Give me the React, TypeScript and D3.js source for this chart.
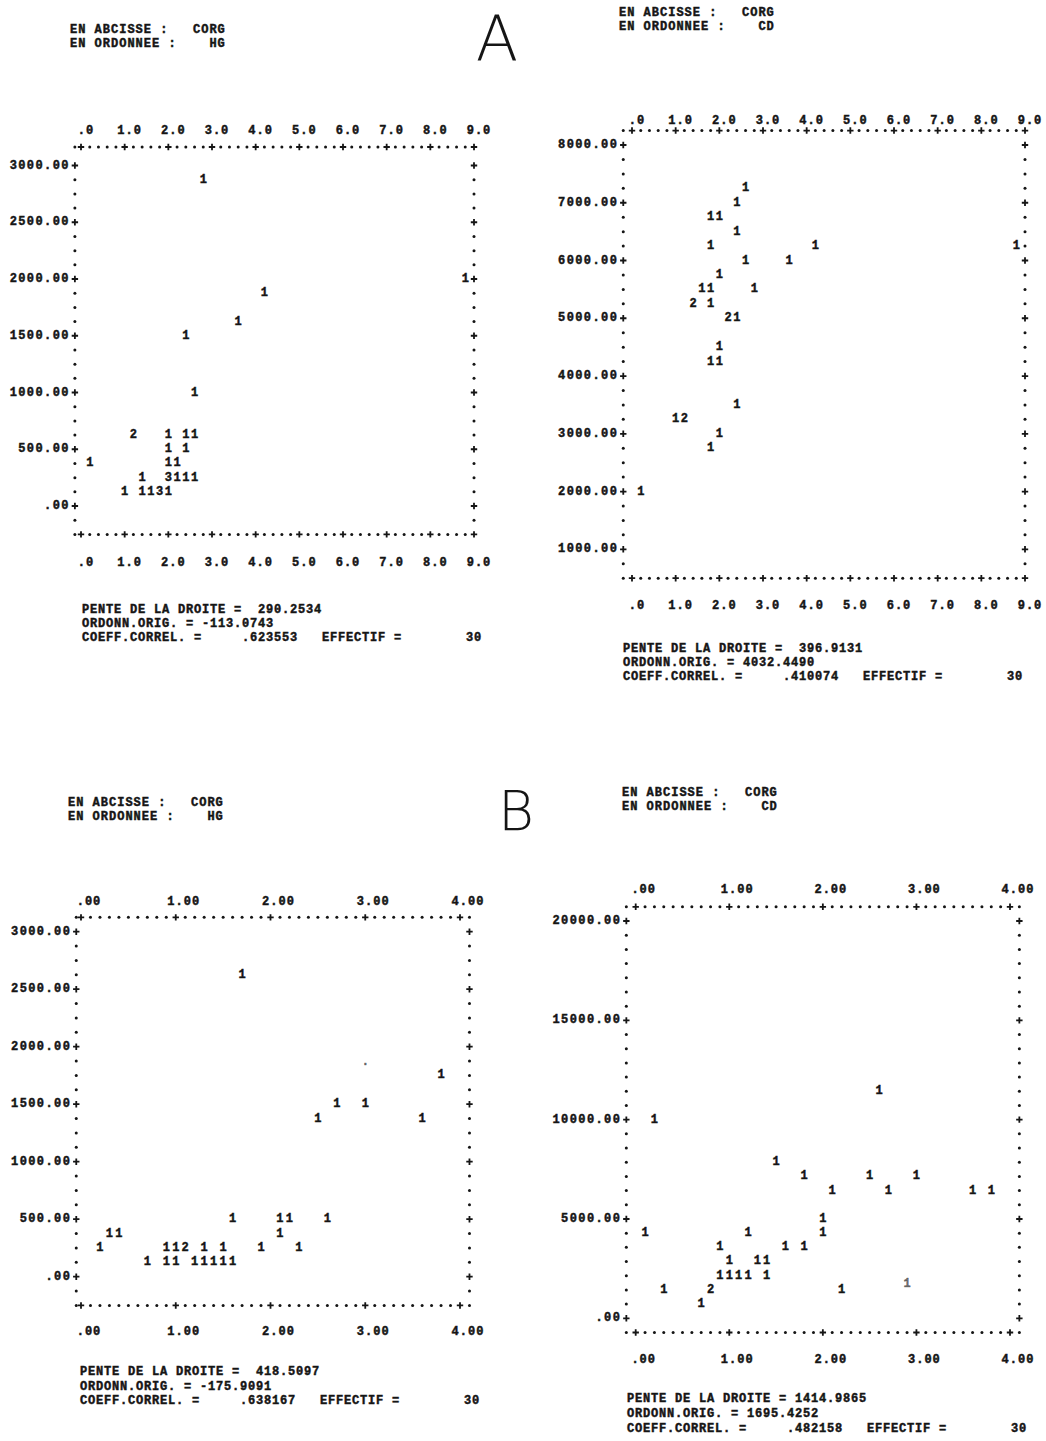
import React from 'react';
import * as d3 from 'd3';

// --- values (x = CORG, y = HG or CD, n = printed count) ---
const corgTicksA = [0, 1, 2, 3, 4, 5, 6, 7, 8, 9];
const corgLabelsA = ['.0', '1.0', '2.0', '3.0', '4.0', '5.0', '6.0', '7.0', '8.0', '9.0'];
const corgTicksB = [0, 1, 2, 3, 4];
const corgLabelsB = ['.00', '1.00', '2.00', '3.00', '4.00'];

const hgTicks = [0, 500, 1000, 1500, 2000, 2500, 3000];
const hgLabels = ['.00', '500.00', '1000.00', '1500.00', '2000.00', '2500.00', '3000.00'];
const cdTicksA = [1000, 2000, 3000, 4000, 5000, 6000, 7000, 8000];
const cdLabelsA = ['1000.00', '2000.00', '3000.00', '4000.00', '5000.00', '6000.00', '7000.00', '8000.00'];
const cdTicksB = [0, 5000, 10000, 15000, 20000];
const cdLabelsB = ['.00', '5000.00', '10000.00', '15000.00', '20000.00'];

// [corg, value, count]
const hgPointsA = [
  [2.8, 2875, 1], [8.8, 2000, 1], [4.2, 1875, 1], [3.6, 1625, 1], [2.4, 1500, 1], [2.6, 1000, 1],
  [1.2, 625, 2], [2.0, 625, 1], [2.4, 625, 1], [2.6, 625, 1],
  [2.0, 500, 1], [2.4, 500, 1],
  [0.2, 375, 1], [2.0, 375, 1], [2.2, 375, 1],
  [1.4, 250, 1], [2.0, 250, 3], [2.2, 250, 1], [2.4, 250, 1], [2.6, 250, 1],
  [1.0, 125, 1], [1.4, 125, 1], [1.6, 125, 1], [1.8, 125, 3], [2.0, 125, 1],
];
const cdPointsA = [
  [2.6, 7250, 1], [2.4, 7000, 1], [1.8, 6750, 1], [2.0, 6750, 1], [2.4, 6500, 1],
  [1.8, 6250, 1], [4.2, 6250, 1], [8.8, 6250, 1], [2.6, 6000, 1], [3.6, 6000, 1],
  [2.0, 5750, 1], [1.6, 5500, 1], [1.8, 5500, 1], [2.8, 5500, 1],
  [1.4, 5250, 2], [1.8, 5250, 1], [2.2, 5000, 2], [2.4, 5000, 1],
  [2.0, 4500, 1], [1.8, 4250, 1], [2.0, 4250, 1], [2.4, 3500, 1],
  [1.0, 3250, 1], [1.2, 3250, 2], [2.0, 3000, 1], [1.8, 2750, 1], [0.2, 2000, 1],
];
const hgPointsB = [
  [1.7, 2625, 1], [3.8, 1750, 1], [2.7, 1500, 1], [3.0, 1500, 1], [2.5, 1375, 1], [3.6, 1375, 1],
  [1.6, 500, 1], [2.1, 500, 1], [2.2, 500, 1], [2.6, 500, 1],
  [0.3, 375, 1], [0.4, 375, 1], [2.1, 375, 1],
  [0.2, 250, 1], [0.9, 250, 1], [1.0, 250, 1], [1.1, 250, 2], [1.3, 250, 1], [1.5, 250, 1],
  [1.9, 250, 1], [2.3, 250, 1],
  [0.7, 125, 1], [0.9, 125, 1], [1.0, 125, 1], [1.2, 125, 1], [1.3, 125, 1], [1.4, 125, 1],
  [1.5, 125, 1], [1.6, 125, 1],
];
const cdPointsB = [
  [2.6, 11430, 1], [0.2, 10000, 1], [1.5, 7860, 1],
  [1.8, 7140, 1], [2.5, 7140, 1], [3.0, 7140, 1],
  [2.1, 6430, 1], [2.7, 6430, 1], [3.6, 6430, 1], [3.8, 6430, 1],
  [2.0, 5000, 1], [0.1, 4290, 1], [1.2, 4290, 1], [2.0, 4290, 1],
  [0.9, 3570, 1], [1.6, 3570, 1], [1.8, 3570, 1],
  [1.0, 2860, 1], [1.3, 2860, 1], [1.4, 2860, 1],
  [0.9, 2140, 1], [1.0, 2140, 1], [1.1, 2140, 1], [1.2, 2140, 1], [1.4, 2140, 1],
  [0.3, 1430, 1], [0.8, 1430, 2], [2.2, 1430, 1], [0.7, 710, 1],
];
// smudges on the printout
const strayHgB = [[3.0, 1870, '.']];
const strayCdB = [[2.9, 1730, '1']];

const headerHgA = ['EN ABCISSE :   CORG', 'EN ORDONNEE :    HG'];
const headerCdA = ['EN ABCISSE :   CORG', 'EN ORDONNEE :    CD'];
const statsHgA = ['PENTE DE LA DROITE =  290.2534', 'ORDONN.ORIG. = -113.0743', 'COEFF.CORREL. =     .623553   EFFECTIF =        30'];
const statsCdA = ['PENTE DE LA DROITE =  396.9131', 'ORDONN.ORIG. = 4032.4490', 'COEFF.CORREL. =     .410074   EFFECTIF =        30'];
const statsHgB = ['PENTE DE LA DROITE =  418.5097', 'ORDONN.ORIG. = -175.9091', 'COEFF.CORREL. =     .638167   EFFECTIF =        30'];
const statsCdB = ['PENTE DE LA DROITE = 1414.9865', 'ORDONN.ORIG. = 1695.4252', 'COEFF.CORREL. =     .482158   EFFECTIF =        30'];

const FONT = "'Liberation Mono', 'DejaVu Sans Mono', monospace";
const INK = '#151515';

const Plus = ({ x, y }) => (
  <path d={`M${x - 3.2},${y}H${x + 3.2}M${x},${y - 3.2}V${y + 3.2}`} stroke={INK} strokeWidth={1.8} />
);
const Dot = ({ x, y }) => <circle cx={x} cy={y} r={1.5} fill={INK} />;

const PrinterPlot = ({ cfg, points, stray = [], xTicks, xLabels, yTicks, yLabels, header, stats }) => {
  const x = d3.scaleLinear().domain([0, cfg.xMax]).range(cfg.xRange);
  const y = d3.scaleLinear().domain(cfg.yDomain).range(cfg.yRange);
  const [yMin, yMax] = cfg.yDomain;
  const nRows = Math.round((yMax - yMin) / cfg.rowStep);
  const rowsPerLabel = Math.round(cfg.labelStep / cfg.rowStep);
  const rowVal = (i) => yMin + i * cfg.rowStep;
  const colX = (c) => x(c / cfg.cpu);
  const leftX = colX(cfg.leftCol);
  const rightX = colX(cfg.rightCol);
  const topY = cfg.topBorder ?? y(rowVal(nRows + 1));
  const botY = y(rowVal(-cfg.rowsBelow));

  const frame = [];
  // top and bottom borders
  [topY, botY].forEach((yy, k) => {
    frame.push(<Dot key={`c${k}`} x={leftX} y={yy} />);
    for (let c = 0; c <= cfg.rightCol; c++) {
      const isTick = c % cfg.cpu === 0 && c / cfg.cpu <= cfg.xMax;
      frame.push(isTick ? <Plus key={`b${k}-${c}`} x={colX(c)} y={yy} /> : <Dot key={`b${k}-${c}`} x={colX(c)} y={yy} />);
    }
  });
  // side borders
  for (let i = -cfg.rowsBelow + 1; i <= nRows; i++) {
    const yy = y(rowVal(i));
    const isTick = i >= 0 && i % rowsPerLabel === 0;
    [leftX, rightX].forEach((xx, k) =>
      frame.push(isTick ? <Plus key={`s${k}-${i}`} x={xx} y={yy} /> : <Dot key={`s${k}-${i}`} x={xx} y={yy} />)
    );
  }

  const ink = { fill: INK, stroke: INK, strokeWidth: 0.45 };

  return (
    <g fontFamily={FONT} fontWeight="bold" fontSize={12}>
      {header.map((t, i) => (
        <text key={`h${i}`} {...ink} x={cfg.header[0]} y={cfg.header[1] + i * 14} letterSpacing={1.0} style={{ whiteSpace: 'pre' }}>{t}</text>
      ))}
      {xTicks.map((t, i) => (
        <g key={`xt${i}`}>
          <text {...ink} x={x(t) + cfg.labelDx} y={cfg.topLabelY} textAnchor="middle" dominantBaseline="central" letterSpacing={1.0}>{xLabels[i]}</text>
          <text {...ink} x={x(t) + cfg.labelDx} y={cfg.bottomLabelY} textAnchor="middle" dominantBaseline="central" letterSpacing={1.0}>{xLabels[i]}</text>
        </g>
      ))}
      {yTicks.map((t, i) => (
        <text key={`yt${i}`} {...ink} x={leftX - 5} y={y(t)} textAnchor="end" dominantBaseline="central" letterSpacing={1.4}>{yLabels[i]}</text>
      ))}
      {frame}
      {points.map(([px, py, n], i) => (
        <text key={`p${i}`} {...ink} x={x(px)} y={y(py)} textAnchor="middle" dominantBaseline="central">{n}</text>
      ))}
      {stray.map(([px, py, g], i) => (
        <text key={`st${i}`} {...ink} x={x(px)} y={y(py)} textAnchor="middle" dominantBaseline="central" fillOpacity={0.6} strokeOpacity={0.6}>{g}</text>
      ))}
      {stats.map((t, i) => (
        <text key={`f${i}`} {...ink} x={cfg.footer[0]} y={cfg.footer[1] + i * cfg.footerGap} dominantBaseline="central" letterSpacing={0.8} style={{ whiteSpace: 'pre' }}>{t}</text>
      ))}
    </g>
  );
};

const cfgHgA = { xMax: 9, xRange: [81, 474], cpu: 5, leftCol: -0.7, rightCol: 45, yDomain: [0, 3000], yRange: [506, 165.5], rowStep: 125, labelStep: 500, rowsBelow: 2, topBorder: 147, topLabelY: 131, bottomLabelY: 563, labelDx: 5, header: [70, 33], footer: [82, 610], footerGap: 14 };
const cfgCdA = { xMax: 9, xRange: [632, 1025], cpu: 5, leftCol: -1, rightCol: 45, yDomain: [1000, 8000], yRange: [549.3, 145], rowStep: 250, labelStep: 1000, rowsBelow: 2, topLabelY: 121, bottomLabelY: 606, labelDx: 5, header: [619, 16], footer: [623, 649], footerGap: 14 };
const cfgHgB = { xMax: 4, xRange: [81, 460], cpu: 10, leftCol: -0.5, rightCol: 41, yDomain: [0, 3000], yRange: [1276.7, 931.7], rowStep: 125, labelStep: 500, rowsBelow: 2, topLabelY: 902, bottomLabelY: 1332, labelDx: 8, header: [68, 806], footer: [80, 1372], footerGap: 14.5 };
const cfgCdB = { xMax: 4, xRange: [635.7, 1010], cpu: 10, leftCol: -1, rightCol: 41, yDomain: [0, 20000], yRange: [1318.3, 921], rowStep: 5000 / 7, labelStep: 5000, rowsBelow: 1, topLabelY: 890, bottomLabelY: 1360, labelDx: 8, header: [622, 796], footer: [627, 1399], footerGap: 15 };

export default function App() {
  return (
    <svg width={1046} height={1441} viewBox="0 0 1046 1441" style={{ position: 'absolute', left: 0, top: 0, background: '#fff' }}>
      <rect width={1046} height={1441} fill="#fff" />
      <text x={497} y={60} textAnchor="middle" fontFamily="'DejaVu Sans', sans-serif" fontWeight={200} fontSize={62} fill={INK}>A</text>
      <text x={516} y={830} textAnchor="middle" fontFamily="'DejaVu Sans', sans-serif" fontWeight={200} fontSize={55} fill={INK}>B</text>
      <PrinterPlot cfg={cfgHgA} points={hgPointsA} xTicks={corgTicksA} xLabels={corgLabelsA} yTicks={hgTicks} yLabels={hgLabels} header={headerHgA} stats={statsHgA} />
      <PrinterPlot cfg={cfgCdA} points={cdPointsA} xTicks={corgTicksA} xLabels={corgLabelsA} yTicks={cdTicksA} yLabels={cdLabelsA} header={headerCdA} stats={statsCdA} />
      <PrinterPlot cfg={cfgHgB} points={hgPointsB} stray={strayHgB} xTicks={corgTicksB} xLabels={corgLabelsB} yTicks={hgTicks} yLabels={hgLabels} header={headerHgA} stats={statsHgB} />
      <PrinterPlot cfg={cfgCdB} points={cdPointsB} stray={strayCdB} xTicks={corgTicksB} xLabels={corgLabelsB} yTicks={cdTicksB} yLabels={cdLabelsB} header={headerCdA} stats={statsCdB} />
    </svg>
  );
}
